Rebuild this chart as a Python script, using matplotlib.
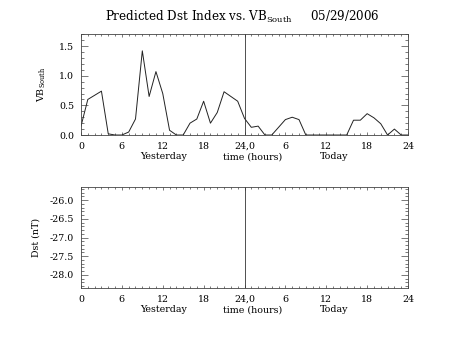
import numpy as np
import matplotlib
matplotlib.use('Agg')
import matplotlib.pyplot as plt
from matplotlib.ticker import MultipleLocator, FixedLocator

plt.rcParams['font.family'] = 'DejaVu Serif'
plt.rcParams['mathtext.fontset'] = 'dejavuserif'

# hourly values, 0 = start of yesterday, 48 = end of today
hours = list(range(49))
vb_south = [0.15, 0.60, 0.67, 0.74, 0.02, 0.00, 0.00, 0.05, 0.27, 1.42,
            0.65, 1.07, 0.70, 0.08, 0.00, 0.00, 0.20, 0.27, 0.57, 0.20,
            0.38, 0.73, 0.65, 0.57, 0.28, 0.13, 0.15, 0.00, 0.00, 0.13,
            0.26, 0.30, 0.26, 0.00, 0.00, 0.00, 0.00, 0.00, 0.00, 0.00,
            0.25, 0.25, 0.36, 0.29, 0.19, 0.00, 0.10, 0.00, 0.00]
dst_level = -27.0   # no predicted Dst points, only the range

x_ticks = [0, 6, 12, 18, 24, 30, 36, 42, 48]
x_ticklabels = ['0', '6', '12', '18', '24,0', '6', '12', '18', '24']
vb_ticks = [0.0, 0.5, 1.0, 1.5]
dst_ticks = [-26.0, -26.5, -27.0, -27.5, -28.0]

title = r'Predicted Dst Index vs. VB$_{\rm South}$     05/29/2006'
date_words = ['Yesterday', 'time (hours)', 'Today']
word_pos = [0.254, 0.526, 0.774]

fig = plt.figure(figsize=(4.53, 3.40), dpi=100)
ax1 = fig.add_axes([0.1788, 0.6029, 0.7219, 0.2971])
ax2 = fig.add_axes([0.1788, 0.1529, 0.7219, 0.2971])

ax1.plot(hours, vb_south, color='#222222', lw=0.7)
ax1.set_ylim(0, max(vb_south) * 1.2)
ax1.set_yticks(vb_ticks)
ax1.set_yticklabels(['%.1f' % v for v in vb_ticks])
ax1.yaxis.set_minor_locator(MultipleLocator(0.1))
ax1.set_ylabel(r'VB$_{\rm South}$', fontsize=6.8)
ax1.yaxis.set_label_coords(-0.1, 0.5)

ax2.set_ylim(dst_level * 1.05, dst_level * 0.95)
ax2.set_yticks(dst_ticks)
ax2.set_yticklabels(['%.1f' % v for v in dst_ticks])
ax2.yaxis.set_minor_locator(MultipleLocator(0.1))
ax2.set_ylabel('Dst (nT)', fontsize=6.8)
ax2.yaxis.set_label_coords(-0.125, 0.5)

for ax in (ax1, ax2):
    ax.set_xlim(0, 48)
    ax.axvline(24, color='#333333', lw=0.6)
    ax.xaxis.set_major_locator(FixedLocator(x_ticks))
    ax.set_xticklabels(x_ticklabels)
    ax.xaxis.set_minor_locator(MultipleLocator(1))
    ax.tick_params(which='both', direction='in', top=True, right=True,
                   labelsize=6.8, color='#444444', width=0.5)
    ax.tick_params(axis='y', which='major', length=4.7, pad=5)
    ax.tick_params(axis='y', which='minor', length=2.4)
    ax.tick_params(axis='x', which='major', length=2.0, pad=5)
    ax.tick_params(axis='x', which='minor', length=1.2)
    for sp in ax.spines.values():
        sp.set_linewidth(0.6)
        sp.set_color('#444444')
    for w, p in zip(date_words, word_pos):
        ax.text(p, -0.215, w, transform=ax.transAxes, ha='center',
                va='center', fontsize=6.8)

fig.text(0.534, 0.95, title, ha='center', va='center', fontsize=8.6)

fig.savefig('out.png', dpi=100)
